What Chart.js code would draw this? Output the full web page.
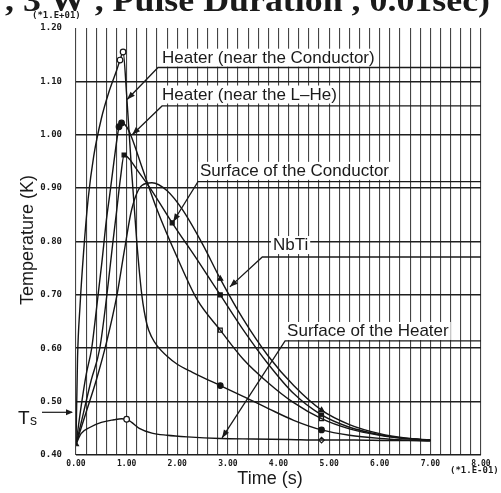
<!DOCTYPE html>
<html><head><meta charset="utf-8">
<script src="https://cdn.jsdelivr.net/npm/chart.js@4"></script>
<style>html,body{margin:0;padding:0;background:#fff;}#wrap{width:501px;height:493px;}</style>
</head><body><div id="wrap"><canvas id="c" width="501" height="493"></canvas></div>
<script>
// ---- data (temperature in units of 1.E+01 K, time in units of 1.E-01 s) ----
const xTickValues = [0, 1, 2, 3, 4, 5, 6, 7, 8];
const yTickValues = [0.4, 0.5, 0.6, 0.7, 0.8, 0.9, 1.0, 1.1, 1.2];

const heaterCondTime = [0, 0.03, 0.08, 0.15, 0.24, 0.35, 0.5, 0.65, 0.8, 0.87, 0.93, 1.0, 1.1, 1.2, 1.3, 1.4, 1.5, 1.6, 1.8, 2.0, 2.3, 2.85, 3.3, 3.8, 4.3, 4.85, 5.4, 6.0, 6.5, 7.0];
const heaterCondTemp = [0.42, 0.58, 0.68, 0.78, 0.88, 0.96, 1.03, 1.08, 1.12, 1.14, 1.155, 1.075, 0.93, 0.80, 0.70, 0.645, 0.62, 0.605, 0.585, 0.57, 0.555, 0.53, 0.51, 0.487, 0.465, 0.447, 0.437, 0.431, 0.428, 0.426];

const heaterLHeTime = [0, 0.1, 0.2, 0.31, 0.4, 0.51, 0.6, 0.67, 0.75, 0.85, 0.9, 1.0, 1.1, 1.3, 1.6, 2.0, 2.4, 2.85, 3.3, 3.8, 4.3, 4.85, 5.4, 6.0, 6.5, 7.0];
const heaterLHeTemp = [0.42, 0.49, 0.55, 0.6, 0.67, 0.76, 0.84, 0.89, 0.95, 1.015, 1.022, 1.015, 0.995, 0.94, 0.86, 0.77, 0.69, 0.634, 0.58, 0.535, 0.498, 0.468, 0.449, 0.437, 0.431, 0.428];

const surfCondTime = [0, 0.15, 0.3, 0.47, 0.61, 0.73, 0.8, 0.88, 0.95, 1.05, 1.2, 1.5, 1.9, 2.4, 2.85, 3.3, 3.8, 4.3, 4.85, 5.4, 6.0, 6.5, 7.0];
const surfCondTemp = [0.42, 0.48, 0.54, 0.6, 0.7, 0.8, 0.855, 0.92, 0.962, 0.955, 0.935, 0.895, 0.835, 0.765, 0.70, 0.635, 0.57, 0.515, 0.475, 0.452, 0.438, 0.431, 0.428];

const nbtiTime = [0, 0.2, 0.4, 0.6, 0.81, 0.95, 1.1, 1.3, 1.5, 1.8, 2.1, 2.5, 2.85, 3.3, 3.8, 4.3, 4.85, 5.4, 6.0, 6.5, 7.0];
const nbtiTemp = [0.42, 0.48, 0.54, 0.61, 0.70, 0.78, 0.86, 0.905, 0.91, 0.895, 0.86, 0.795, 0.73, 0.655, 0.585, 0.53, 0.484, 0.457, 0.44, 0.432, 0.428];

const surfHeaterTime = [0, 0.1, 0.28, 0.5, 0.75, 0.9, 1.0, 1.1, 1.25, 1.5, 1.8, 2.2, 2.85, 3.5, 4.2, 4.85, 5.5, 6.2, 7.0];
const surfHeaterTemp = [0.42, 0.44, 0.452, 0.461, 0.466, 0.468, 0.467, 0.461, 0.45, 0.441, 0.437, 0.434, 0.431, 0.43, 0.429, 0.428, 0.428, 0.427, 0.427];

const seriesNames = ['Heater (near the Conductor)', 'Heater (near the L\u2013He)', 'Surface of the Conductor', 'NbTi', 'Surface of the Heater'];

// ---- build ----
const toPts = (t, v) => t.map((x, i) => ({x: x, y: v[i]}));
function mk(label, t, v, marks, style, filled) {
  return {
    label, data: toPts(t, v),
    borderColor: '#151515', borderWidth: 1.4, fill: false,
    cubicInterpolationMode: 'monotone',
    pointStyle: style,
    pointRadius: ctx => (ctx.raw && marks.some(m => Math.abs(m - ctx.raw.x) < 1e-6)) ? 2.8 : 0,
    pointHoverRadius: 0,
    pointBorderColor: '#151515', pointBorderWidth: 1.2,
    pointBackgroundColor: filled ? '#151515' : '#ffffff'
  };
}
const datasets = [
  mk(seriesNames[0], heaterCondTime, heaterCondTemp, [0.87, 0.93], 'circle', false),
  mk(seriesNames[0] + ' pts', [2.85, 4.85], [heaterCondTemp[21], heaterCondTemp[25]], [2.85, 4.85], 'circle', true),
  mk(seriesNames[1], heaterLHeTime, heaterLHeTemp, [0.85, 0.9], 'circle', true),
  mk(seriesNames[1] + ' pts', [2.85, 4.85], [heaterLHeTemp[17], heaterLHeTemp[21]], [2.85, 4.85], 'rect', false),
  mk(seriesNames[2], surfCondTime, surfCondTemp, [0.95, 1.9, 2.85, 4.85], 'rect', true),
  mk(seriesNames[3], nbtiTime, nbtiTemp, [2.85, 4.85], 'triangle', true),
  mk(seriesNames[4], surfHeaterTime, surfHeaterTemp, [1.0], 'circle', false),
  mk(seriesNames[4] + ' pts', [0, 4.85], [surfHeaterTemp[0], surfHeaterTemp[15]], [0, 4.85], 'triangle', true)
];
datasets[1].showLine = false; datasets[3].showLine = false; datasets[7].showLine = false;
datasets[7].pointStyle = ['triangle', 'rectRot'];
datasets[7].pointBackgroundColor = ['#151515', '#ffffff'];

// annotation labels in data coordinates
const annotations = [
  {text: seriesNames[0], tx: 1.70, ty: 1.135, ux: 1.62, uy: 1.126, ax: 1.01, ay: 1.066},
  {text: seriesNames[1], tx: 1.70, ty: 1.066, ux: 1.70, uy: 1.054, ax: 1.11, ay: 1.0},
  {text: seriesNames[2], tx: 2.45, ty: 0.923, ux: 2.41, uy: 0.912, ax: 1.92, ay: 0.837},
  {text: seriesNames[3], tx: 3.89, ty: 0.784, ux: 3.68, uy: 0.771, ax: 3.04, ay: 0.715},
  {text: seriesNames[4], tx: 4.17, ty: 0.623, ux: 4.13, uy: 0.614, ax: 2.885, ay: 0.432}
];

const ink = '#1a1a1a';
function arrowHead(ctx, x0, y0, x1, y1, len, w) {
  const a = Math.atan2(y1 - y0, x1 - x0);
  ctx.beginPath();
  ctx.moveTo(x1, y1);
  ctx.lineTo(x1 - len * Math.cos(a) + w * Math.sin(a), y1 - len * Math.sin(a) - w * Math.cos(a));
  ctx.lineTo(x1 - len * Math.cos(a) - w * Math.sin(a), y1 - len * Math.sin(a) + w * Math.cos(a));
  ctx.closePath(); ctx.fill();
}

const labelBg = {
  id: 'labelBg',
  beforeDatasetsDraw(chart) {
    const ctx = chart.ctx, xs = chart.scales.x, ys = chart.scales.y;
    ctx.save();
    ctx.font = '17px "Liberation Sans"';
    ctx.fillStyle = '#ffffff';
    annotations.forEach(a => {
      const x = xs.getPixelForValue(a.tx), y = ys.getPixelForValue(a.ty);
      const w = ctx.measureText(a.text).width;
      ctx.fillRect(x - 2, y - 14, w + 4, 18);
    });
    ctx.restore();
  }
};

const decor = {
  id: 'decor',
  afterDraw(chart) {
    const ctx = chart.ctx, xs = chart.scales.x, ys = chart.scales.y;
    ctx.save();
    ctx.fillStyle = ink; ctx.strokeStyle = ink;
    // cropped title
    ctx.font = 'bold 32px "Liberation Serif"';
    ctx.textBaseline = 'alphabetic'; ctx.textAlign = 'left';
    const title = ', 3 W , Pulse Duration , 0.01sec)';
    const tw = ctx.measureText(title).width;
    ctx.save(); ctx.translate(5, 11); ctx.scale(485 / tw, 1);
    ctx.fillText(title, 0, 0); ctx.restore();
    // axis multipliers
    ctx.font = 'bold 9px "DejaVu Sans Mono"';
    ctx.fillText('(*1.E+01)', 32, 18);
    ctx.fillText('(*1.E-01)', 450, 473);
    // axis titles
    ctx.font = '18px "Liberation Sans"';
    ctx.textAlign = 'center'; ctx.textBaseline = 'middle';
    ctx.fillText('Time (s)', 270, 479);
    ctx.save(); ctx.translate(28, 240); ctx.rotate(-Math.PI / 2);
    ctx.fillText('Temperature (K)', 0, 0); ctx.restore();
    // Ts marker
    ctx.textAlign = 'left'; ctx.textBaseline = 'alphabetic';
    ctx.font = '19px "Liberation Sans"';
    ctx.fillText('T', 18, 424);
    ctx.font = '14px "Liberation Sans"';
    ctx.fillText('s', 30, 425);
    const tsY = ys.getPixelForValue(0.48);
    ctx.lineWidth = 1.2;
    ctx.beginPath(); ctx.moveTo(42, tsY); ctx.lineTo(xs.left - 4, tsY); ctx.stroke();
    arrowHead(ctx, 42, tsY, xs.left - 3, tsY, 7, 3);
    // annotations
    ctx.font = '17px "Liberation Sans"';
    ctx.lineWidth = 1.3;
    annotations.forEach(a => {
      const ux = xs.getPixelForValue(a.ux), uy = ys.getPixelForValue(a.uy);
      const ax = xs.getPixelForValue(a.ax), ay = ys.getPixelForValue(a.ay);
      ctx.fillText(a.text, xs.getPixelForValue(a.tx), ys.getPixelForValue(a.ty));
      ctx.beginPath(); ctx.moveTo(xs.right, uy); ctx.lineTo(ux, uy); ctx.lineTo(ax, ay); ctx.stroke();
      arrowHead(ctx, ux, uy, ax, ay, 8, 3);
    });
    ctx.restore();
  }
};

new Chart(document.getElementById('c'), {
  type: 'line',
  data: {datasets},
  options: {
    responsive: false, animation: false, devicePixelRatio: 1,
    layout: {padding: {top: 28, right: 20, left: 0, bottom: 0}},
    plugins: {legend: {display: false}, tooltip: {enabled: false}},
    scales: {
      x: {
        type: 'linear', min: 0, max: 8,
        afterFit: s => { s.height = 38; },
        border: {display: false},
        grid: {color: '#444444', lineWidth: 1.1, drawTicks: false, borderDash: [9, 3]},
        ticks: {
          stepSize: 0.2, autoSkip: false, maxRotation: 0, maxTicksLimit: 100, padding: 4,
          color: ink, font: {family: '"DejaVu Sans Mono"', size: 8, weight: 'bold'},
          callback: v => xTickValues.some(t => Math.abs(t - v) < 1e-6) ? v.toFixed(2) : ''
        }
      },
      y: {
        type: 'linear', min: 0.4, max: 1.2,
        afterFit: s => { s.width = 76; },
        border: {display: false},
        grid: {color: c => (c.tick && c.tick.value > 1.15) ? 'rgba(0,0,0,0)' : '#1e1e1e', lineWidth: 1.6, drawTicks: false},
        ticks: {
          stepSize: 0.1, padding: 14, color: ink,
          font: {family: '"DejaVu Sans Mono"', size: 9, weight: 'bold'},
          callback: v => yTickValues.some(t => Math.abs(t - v) < 1e-6) ? v.toFixed(2) : ''
        }
      }
    }
  },
  plugins: [labelBg, decor]
});
</script></body></html>
